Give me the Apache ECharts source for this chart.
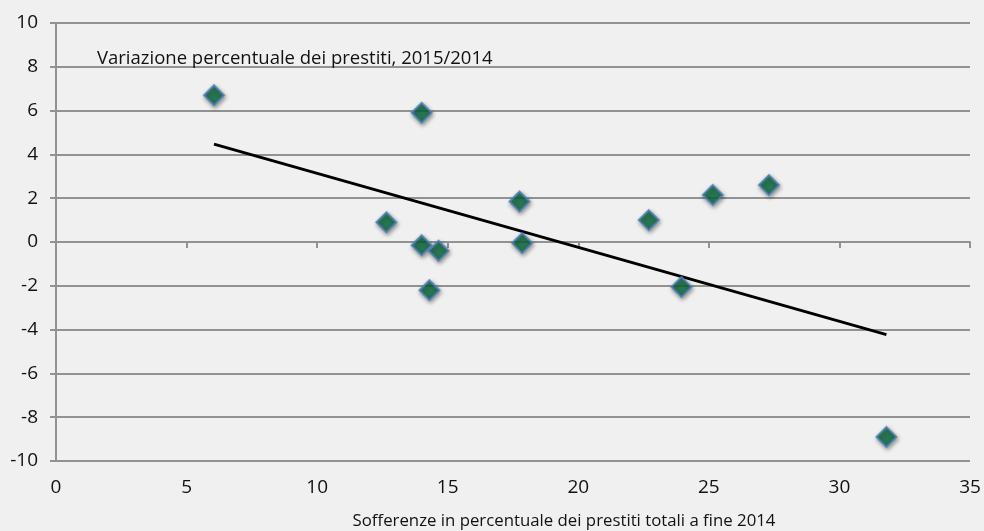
<!DOCTYPE html>
<html>
<head>
<meta charset="utf-8">
<script src="https://cdn.jsdelivr.net/npm/echarts@6/dist/echarts.min.js"></script>
<style>
html,body{margin:0;padding:0;background:#f0f0f0;}
#chart{width:984px;height:531px;}
</style>
</head>
<body>
<div id="chart"></div>
<script>
// Data
var sofferenze = [6.05, 14.0, 12.65, 14.0, 14.65, 14.3, 17.75, 17.85, 22.7, 23.95, 25.15, 27.3, 31.8];
var variazione = [6.7, 5.9, 0.9, -0.15, -0.4, -2.2, 1.85, -0.05, 1.0, -2.05, 2.15, 2.6, -8.9];
var trendX = [6.05, 31.8];
var trendY = [4.47, -4.23];
var xTicks = [0, 5, 10, 15, 20, 25, 30, 35];
var yTicks = [-10, -8, -6, -4, -2, 0, 2, 4, 6, 8, 10];
var chartTitle = 'Variazione percentuale dei prestiti, 2015/2014';
var xTitle = 'Sofferenze in percentuale dei prestiti totali a fine 2014';

var points = sofferenze.map(function (x, i) { return [x, variazione[i]]; });
var trend = trendX.map(function (x, i) { return [x, trendY[i]]; });

var gridColor = '#929292';
var textFont = 'Open Sans';
var gridTop = 23, gridBottom = 70, H = 531;
var plotH = H - gridTop - gridBottom;
var yMin = -10, yMax = 10;
// offset that puts the tick axis at the zero line
var zeroOffset = -plotH * (0 - yMin) / (yMax - yMin);

var chart = echarts.init(document.getElementById('chart'), null, {renderer: 'canvas'});
chart.setOption({
  backgroundColor: '#f0f0f0',
  animation: false,
  title: [{
    text: chartTitle,
    left: 92, top: 44,
    textStyle: {fontFamily: textFont, fontSize: 18.5, fontWeight: 'normal', color: '#111'}
  }, {
    text: xTitle,
    left: 559, top: 508, textAlign: 'center',
    textStyle: {fontFamily: textFont, fontSize: 16.8, fontWeight: 'normal', color: '#111'}
  }],
  grid: {left: 56, right: 14, top: gridTop, bottom: gridBottom, containLabel: false, outerBoundsMode: 'none'},
  xAxis: [{
    type: 'value', min: 0, max: 35, interval: 5,
    position: 'bottom',
    axisLine: {show: false, onZero: false},
    axisTick: {show: false},
    splitLine: {show: false},
    axisLabel: {fontFamily: textFont, fontSize: 19, color: '#111', margin: 17,
      formatter: function (v) { return xTicks.indexOf(v) >= 0 ? String(v) : ''; }}
  }, {
    type: 'value', min: 0, max: 35, interval: 5,
    position: 'bottom',
    offset: zeroOffset,
    axisLine: {show: true, onZero: false, lineStyle: {color: gridColor, width: 2}},
    axisTick: {show: true, inside: false, length: 6, lineStyle: {color: gridColor, width: 2}},
    axisLabel: {show: false},
    splitLine: {show: false}
  }],
  yAxis: {
    type: 'value', min: yMin, max: yMax, interval: 2,
    axisLine: {show: true, onZero: false, lineStyle: {color: gridColor, width: 2}},
    axisTick: {show: true, length: 6, lineStyle: {color: gridColor, width: 2}},
    splitLine: {show: true, lineStyle: {color: gridColor, width: 2}},
    axisLabel: {fontFamily: textFont, fontSize: 19, color: '#111', margin: 18,
      formatter: function (v) { return yTicks.indexOf(v) >= 0 ? String(v) : ''; }}
  },
  series: [{
    type: 'line',
    xAxisIndex: 0,
    data: trend,
    symbol: 'none',
    lineStyle: {color: '#000', width: 3},
    z: 3
  }, {
    type: 'scatter',
    xAxisIndex: 0,
    data: points,
    symbol: 'diamond',
    symbolSize: [20, 20],
    itemStyle: {
      color: '#0a6b40',
      borderColor: '#4f81bd',
      borderWidth: 2,
      shadowBlur: 4,
      shadowColor: 'rgba(0,0,0,0.45)',
      shadowOffsetY: 2,
      shadowOffsetX: 1
    },
    z: 4
  }]
});
</script>
</body>
</html>
